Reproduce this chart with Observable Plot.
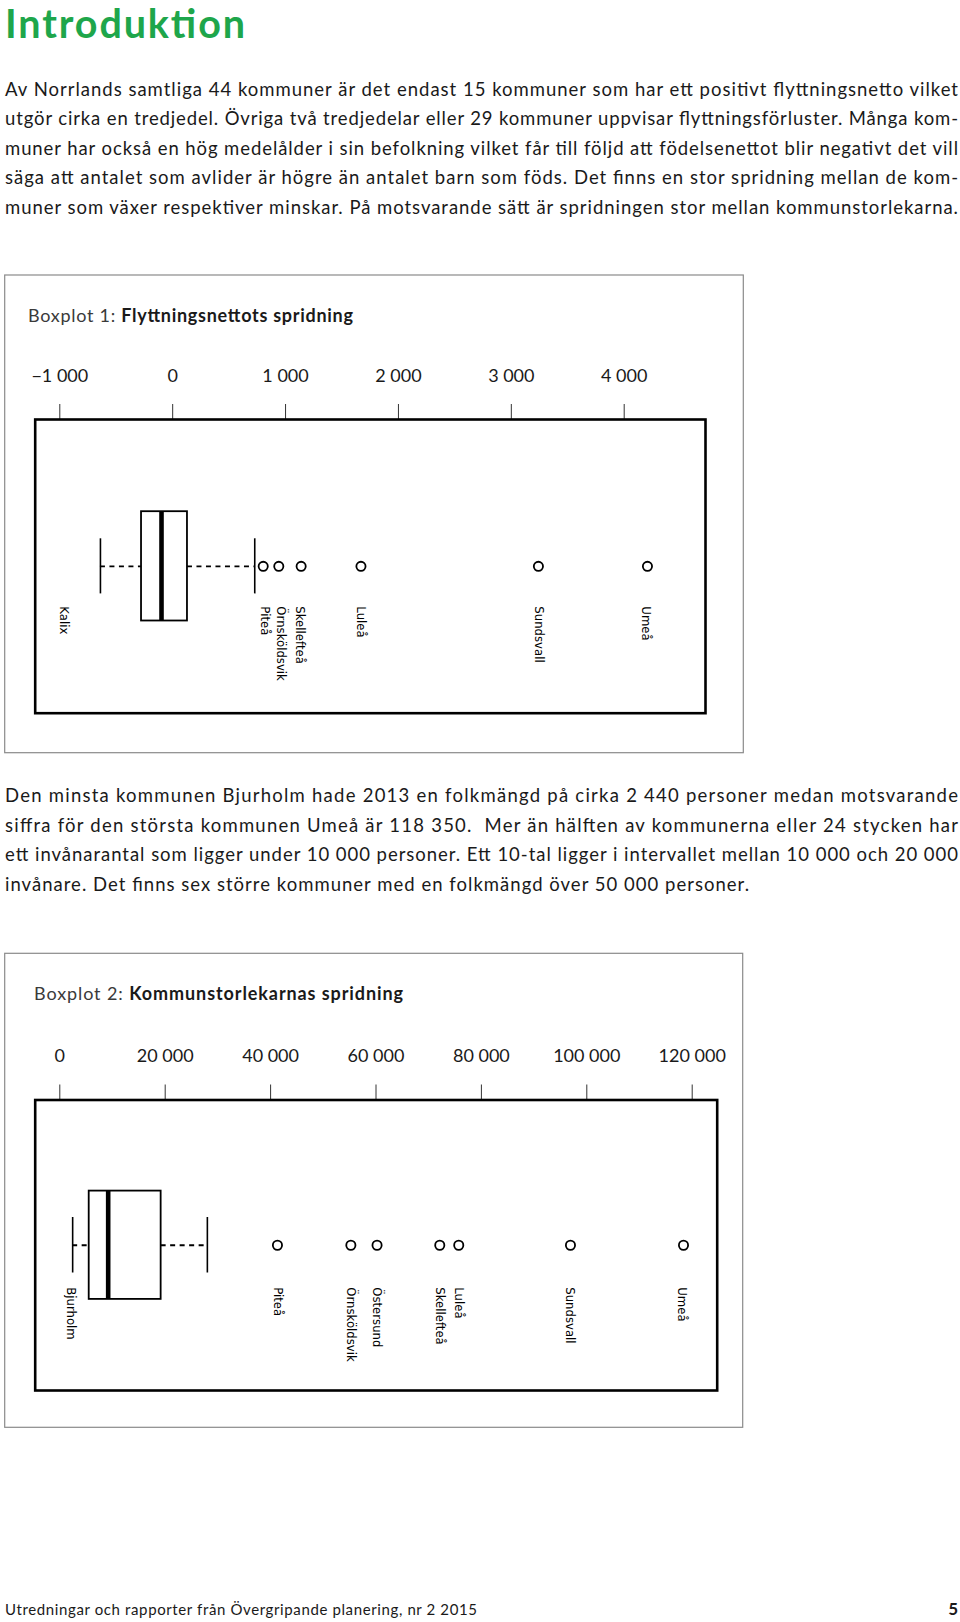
<!DOCTYPE html>
<html><head><meta charset="utf-8">
<script src="https://cdn.jsdelivr.net/npm/d3@7"></script>
<script src="https://cdn.jsdelivr.net/npm/@observablehq/plot@0.6"></script>
<style>
html,body{margin:0;padding:0;background:#fff;}
#page{position:relative;width:960px;height:1622px;overflow:hidden;background:#fff;}
.chart{position:absolute;left:0;width:750px;}
#overlay{position:absolute;left:0;top:0;pointer-events:none;}
</style></head>
<body><div id="page"></div>
<script>
// ---------- text content ----------
const introTitle = "Introduktion";
const paragraph1 = [
  "Av Norrlands samtliga 44 kommuner är det endast 15 kommuner som har ett positivt flyttningsnetto vilket",
  "utgör cirka en tredjedel. Övriga två tredjedelar eller 29 kommuner uppvisar flyttningsförluster. Många kom-",
  "muner har också en hög medelålder i sin befolkning vilket får till följd att födelsenettot blir negativt det vill",
  "säga att antalet som avlider är högre än antalet barn som föds. Det finns en stor spridning mellan de kom-",
  "muner som växer respektiver minskar. På motsvarande sätt är spridningen stor mellan kommunstorlekarna."
];
const paragraph2 = [
  "Den minsta kommunen Bjurholm hade 2013 en folkmängd på cirka 2 440 personer medan motsvarande",
  "siffra för den största kommunen Umeå är 118 350.  Mer än hälften av kommunerna eller 24 stycken har",
  "ett invånarantal som ligger under 10 000 personer. Ett 10-tal ligger i intervallet mellan 10 000 och 20 000",
  "invånare. Det finns sex större kommuner med en folkmängd över 50 000 personer."
];
const footerText = "Utredningar och rapporter från Övergripande planering, nr 2 2015";
const pageNumber = "5";

// ---------- Boxplot 1: Flyttningsnetto ----------
const chart1TitlePrefix = "Boxplot 1: ";
const chart1TitleMain = "Flyttningsnettots spridning";
const chart1Ticks = [-1000, 0, 1000, 2000, 3000, 4000];
// whisker min, Q1, median, Q3, whisker max
const chart1Box = [-640, -276, -99, 131, 727];
const chart1Outliers = [802, 940, 1138, 1668, 3240, 4206];
const chart1LabelNames = ["Kalix", "Piteå", "Örnsköldsvik", "Skellefteå", "Luleå", "Sundsvall", "Umeå"];
const chart1LabelValues = [-966, 812, 960, 1123, 1665, 3240, 4195];

// ---------- Boxplot 2: Kommunstorlek ----------
const chart2TitlePrefix = "Boxplot 2: ";
const chart2TitleMain = "Kommunstorlekarnas spridning";
const chart2Ticks = [0, 20000, 40000, 60000, 80000, 100000, 120000];
const chart2Box = [2440, 5580, 9180, 19230, 28000];
const chart2Outliers = [41300, 55230, 60200, 72100, 75700, 96900, 118350];
const chart2LabelNames = ["Bjurholm", "Piteå", "Örnsköldsvik", "Östersund", "Skellefteå", "Luleå", "Sundsvall", "Umeå"];
const chart2LabelValues = [2100, 41300, 55230, 60200, 72100, 75700, 96700, 118000];

// ---------- formatting ----------
const fmt = d3.formatLocale({decimal: ",", thousands: " ", grouping: [3], currency: ["", ""], minus: "\u2212"}).format(",d");

const page = document.getElementById("page");

function boxplot(cfg) {
  const {ticks, box, outliers, labelNames, labelValues} = cfg;
  const plot = Plot.plot({
    width: 750,
    height: cfg.height,
    marginTop: cfg.marginTop,
    marginBottom: cfg.marginBottom,
    marginLeft: cfg.marginLeft,
    marginRight: cfg.marginRight,
    style: {background: "transparent", fontFamily: "Lato", fontSize: "18px", color: "#1a1a1a", overflow: "visible"},
    x: {domain: [ticks[0], ticks[ticks.length - 1]], range: cfg.range},
    y: {domain: [-1, 1], axis: null},
    marks: [
      Plot.axisX({anchor: "top", ticks, tickSize: 16, tickPadding: cfg.tickPadding, tickFormat: fmt, fontSize: 18, stroke: "#333"}),
      Plot.frame({stroke: "#000", strokeWidth: 2.6}),
      Plot.ruleY([0], {x1: () => box[0], x2: () => box[1], strokeDasharray: "5,4.5", strokeWidth: 1.8, stroke: "#000"}),
      Plot.ruleY([0], {x1: () => box[3], x2: () => box[4], strokeDasharray: "5,4.5", strokeWidth: 1.8, stroke: "#000"}),
      Plot.ruleX([box[0], box[4]], {insetTop: cfg.capInset, insetBottom: cfg.capInset, strokeWidth: 1.6, stroke: "#000"}),
      Plot.rect([box], {x1: d => d[1], x2: d => d[3], insetTop: cfg.boxInset, insetBottom: cfg.boxInset, fill: "white", stroke: "#000", strokeWidth: 1.8}),
      Plot.ruleX([box[2]], {insetTop: cfg.boxInset, insetBottom: cfg.boxInset, strokeWidth: 4.6, stroke: "#000"}),
      Plot.dot(outliers, {x: d => d, y: () => 0, r: 4.6, stroke: "#000", strokeWidth: 1.8, fill: "white"}),
      Plot.text(labelNames, {x: (d, i) => labelValues[i], y: () => 0, dy: cfg.labelDy, rotate: 90, textAnchor: "start",
        fontFamily: "DejaVu Sans", fontSize: 11.7, fill: "#000"})
    ]
  });
  const wrap = document.createElement("div");
  wrap.className = "chart";
  wrap.style.top = cfg.top + "px";
  wrap.appendChild(plot);
  page.appendChild(wrap);
}

boxplot({
  ticks: chart1Ticks, box: chart1Box, outliers: chart1Outliers,
  labelNames: chart1LabelNames, labelValues: chart1LabelValues,
  top: 275, height: 478, marginTop: 144, marginBottom: 40.3, marginLeft: 34.7, marginRight: 45,
  range: [59.3, 623.7], tickPadding: 21.5, boxInset: 92.2, capInset: 119.3, labelDy: 40
});

boxplot({
  ticks: chart2Ticks, box: chart2Box, outliers: chart2Outliers,
  labelNames: chart2LabelNames, labelValues: chart2LabelValues,
  top: 953, height: 475, marginTop: 146.5, marginBottom: 38, marginLeft: 34.7, marginRight: 33.3,
  range: [59.3, 691.7], tickPadding: 22.5, boxInset: 91.1, capInset: 117.5, labelDy: 42
});

// ---------- page text overlay ----------
const svg = d3.select(page).append("svg")
  .attr("id", "overlay").attr("width", 960).attr("height", 1622);

// gray outer frames of the two figures
svg.append("rect").attr("x", 4.7).attr("y", 275).attr("width", 738.6).attr("height", 477.7)
  .attr("fill", "none").attr("stroke", "#8a8a8a").attr("stroke-width", 1.2);
svg.append("rect").attr("x", 4.7).attr("y", 953.3).attr("width", 738).attr("height", 474)
  .attr("fill", "none").attr("stroke", "#8a8a8a").attr("stroke-width", 1.2);

function line(txt, x, y, size, width, opts = {}) {
  const t = svg.append("text").attr("x", x).attr("y", y)
    .attr("font-family", "Lato").attr("font-size", size)
    .attr("font-weight", opts.weight || 400)
    .attr("fill", opts.fill || "#1a1a1a")
    .attr("xml:space", "preserve")
    .style("white-space", "pre")
    .text(txt);
  if (width) t.attr("textLength", width).attr("lengthAdjust", "spacing");
  return t;
}

line(introTitle, 5, 38.3, 39.5, 240, {weight: 700, fill: "#1ea64b"});

const p1Base = [95.5, 125, 154.5, 184, 213.5];
paragraph1.forEach((s, i) => line(s, 5, p1Base[i], 18.5, 953));

const p2Base = [802, 831.5, 861, 890.5];
paragraph2.forEach((s, i) => line(s, 5, p2Base[i], 18.5, i < 3 ? 953 : 744));

function chartTitle(prefix, main, x, y, width) {
  const t = svg.append("text").attr("x", x).attr("y", y)
    .attr("font-family", "Lato").attr("font-size", 18).attr("fill", "#1a1a1a")
    .attr("textLength", width).attr("lengthAdjust", "spacing")
    .style("white-space", "pre");
  t.append("tspan").attr("fill", "#3a3a3a").attr("font-weight", 400).text(prefix);
  t.append("tspan").attr("font-weight", 700).text(main);
}
chartTitle(chart1TitlePrefix, chart1TitleMain, 28, 322, 325);
chartTitle(chart2TitlePrefix, chart2TitleMain, 34, 999.5, 369);

line(footerText, 5, 1615, 15, 472);
line(pageNumber, 958, 1615, 17, null, {weight: 700}).attr("text-anchor", "end");
</script>
</body></html>
